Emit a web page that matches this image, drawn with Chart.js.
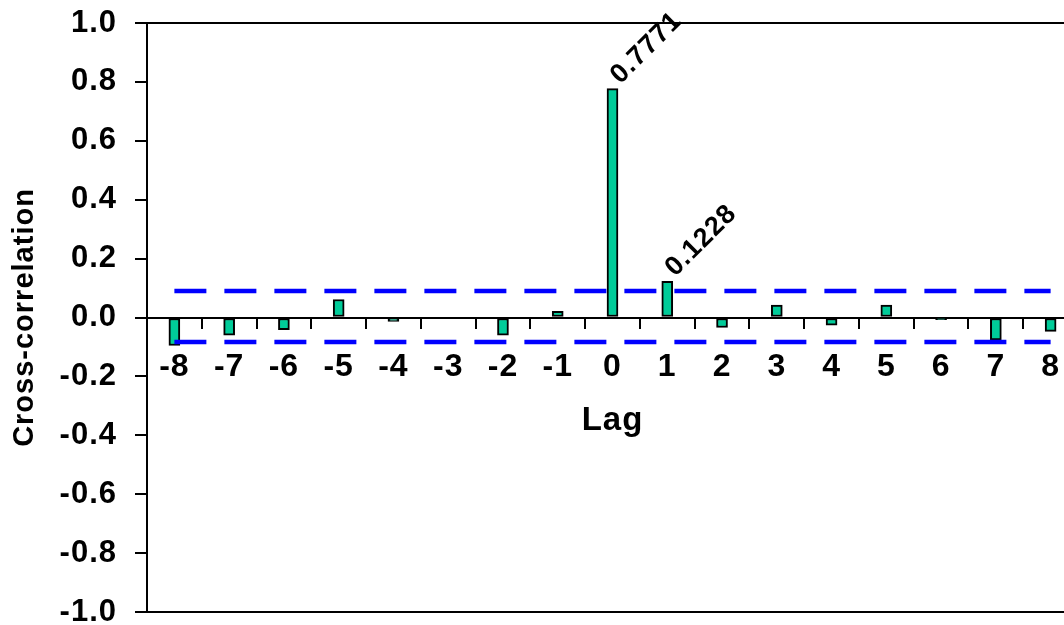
<!DOCTYPE html>
<html>
<head>
<meta charset="utf-8">
<script src="https://cdn.jsdelivr.net/npm/chart.js@4"></script>
<style>
    body { margin: 0; overflow: hidden; background: #fff; }
</style>
</head>
<body>
<canvas id="cross-correlation" width="1090" height="625"></canvas>
<script>
const canvas = document.getElementById('cross-correlation');

// lags (x categories)
const lags = ['-8', '-7', '-6', '-5', '-4', '-3', '-2', '-1', '0', '1', '2', '3', '4', '5', '6', '7', '8'];
// cross-correlation per lag
const crossCorrelation = [-0.095, -0.060, -0.041, 0.061, -0.013, 0.000, -0.060, 0.021, 0.7771, 0.1228, -0.034, 0.042, -0.026, 0.042, -0.007, -0.076, -0.047];
// significance bounds, one value per lag
const upperBound = [0.09, 0.09, 0.09, 0.09, 0.09, 0.09, 0.09, 0.09, 0.09, 0.09, 0.09, 0.09, 0.09, 0.09, 0.09, 0.09, 0.09];
const lowerBound = [-0.083, -0.083, -0.083, -0.083, -0.083, -0.083, -0.083, -0.083, -0.083, -0.083, -0.083, -0.083, -0.083, -0.083, -0.083, -0.083, -0.083];
// lags whose value is written above the bar
const labelledLags = ['0', '1'];
// y axis ticks
const yTicks = [-1.0, -0.8, -0.6, -0.4, -0.2, 0.0, 0.2, 0.4, 0.6, 0.8, 1.0];

const fontFamily = '"Liberation Sans", Arial, sans-serif';

// slightly wider lettering, like the original
const wideText = {
    id: 'wideText',
    beforeDraw(chart) {
        chart.ctx.letterSpacing = '1px';
    }
};

const barLabels = {
    id: 'barLabels',
    afterDatasetsDraw(chart) {
        const ctx = chart.ctx;
        const meta = chart.getDatasetMeta(2);
        ctx.save();
        ctx.font = 'bold 27px ' + fontFamily;
        ctx.fillStyle = '#000';
        ctx.textAlign = 'left';
        ctx.textBaseline = 'alphabetic';
        labelledLags.forEach(lag => {
            const i = lags.indexOf(lag);
            const bar = meta.data[i];
            ctx.save();
            ctx.translate(bar.x + 8, bar.y - 4);
            ctx.rotate(-Math.PI / 4);
            ctx.fillText(crossCorrelation[i].toFixed(4), 0, 0);
            ctx.restore();
        });
        ctx.restore();
    }
};

function dashedBound(data) {
    return {
        type: 'line',
        data: data,
        borderColor: '#0000FF',
        borderWidth: 4.5,
        borderDash: [32, 18],
        borderCapStyle: 'butt',
        pointRadius: 0,
        fill: false
    };
}

function generateChart(canvas) {
    try {
        new Chart(canvas, {
            type: 'bar',
            data: {
                labels: lags,
                datasets: [
                    dashedBound(upperBound),
                    dashedBound(lowerBound),
                    {
                        type: 'bar',
                        label: 'Cross-correlation',
                        data: crossCorrelation,
                        backgroundColor: '#00CC99',
                        borderColor: '#000',
                        borderWidth: 2,
                        borderSkipped: false,
                        barThickness: 11
                    }
                ]
            },
            options: {
                responsive: false,
                animation: false,
                events: [],
                layout: { padding: { left: 0, top: 23, right: 12, bottom: 13 } },
                plugins: {
                    legend: { display: false },
                    tooltip: { enabled: false }
                },
                scales: {
                    x: {
                        position: { y: 0 },
                        offset: true,
                        grid: {
                            offset: true,
                            drawOnChartArea: false,
                            drawTicks: true,
                            tickLength: 10,
                            color: '#000',
                            lineWidth: 2
                        },
                        border: { color: '#000', width: 2 },
                        ticks: {
                            color: '#000',
                            padding: 20,
                            maxRotation: 0,
                            autoSkip: false,
                            font: { family: fontFamily, size: 32, weight: 'bold' }
                        },
                        title: {
                            display: true,
                            text: 'Lag',
                            color: '#000',
                            padding: { top: 0, bottom: -123 },
                            font: { family: fontFamily, size: 33, weight: 'bold' }
                        },
                        afterFit(scale) {
                            scale.height = 0;
                            scale.paddingLeft = 0;
                            scale.paddingRight = 0;
                        }
                    },
                    y: {
                        min: -1,
                        max: 1,
                        afterBuildTicks(scale) {
                            scale.ticks = yTicks.map(v => ({ value: v }));
                        },
                        grid: {
                            color: ctx => (ctx.tick && Math.abs(Math.abs(ctx.tick.value) - 1) < 1e-9) ? '#000' : 'rgba(0,0,0,0)',
                            tickColor: '#000',
                            tickLength: 12,
                            lineWidth: 2
                        },
                        border: { color: '#000', width: 2 },
                        ticks: {
                            color: '#000',
                            padding: 18,
                            callback: v => v.toFixed(1),
                            font: { family: fontFamily, size: 31, weight: 'bold' }
                        },
                        title: {
                            display: true,
                            text: 'Cross-correlation',
                            color: '#000',
                            padding: { top: 8, bottom: 0 },
                            font: { family: fontFamily, size: 29, weight: 'bold' }
                        },
                        afterFit(scale) {
                            scale.width = 147;
                            scale.paddingTop = 0;
                            scale.paddingBottom = 0;
                        }
                    }
                }
            },
            plugins: [wideText, barLabels]
        });
    } catch (error) {
        console.error(error);
        throw new Error();
    }
}

generateChart(canvas);
</script>
</body>
</html>
